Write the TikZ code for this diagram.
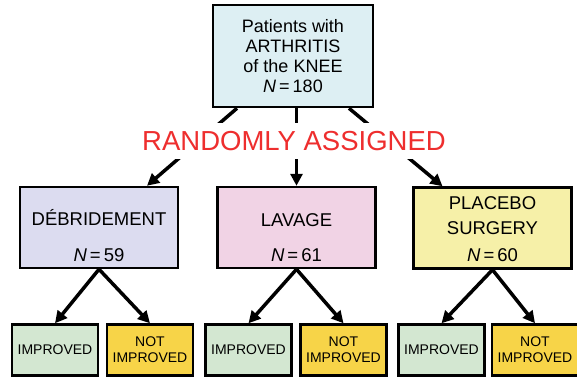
\documentclass[tikz,border=0pt]{standalone}
\usepackage{fontspec}
\setmainfont{Liberation Sans}
\usetikzlibrary{arrows.meta}
\definecolor{ctop}{HTML}{DDEFF3}
\definecolor{cdeb}{HTML}{DCDCF0}
\definecolor{clav}{HTML}{F1D3E5}
\definecolor{cpla}{HTML}{F6F0A8}
\definecolor{cimp}{HTML}{D3E7D1}
\definecolor{cnot}{HTML}{F7D448}
\definecolor{cred}{HTML}{EE2E2E}
\tikzset{
  box/.style={draw=black, fill=#1, line width=2.5pt, inner sep=0pt},
  grpbox/.style={box=#1, minimum width=158pt, minimum height=81pt},
  grptext/.style={font=\fontsize{18.5}{22}\selectfont, anchor=base, inner sep=0pt},
  resbox/.style={box=#1, minimum width=86pt, minimum height=51pt, align=center, font=\fontsize{14}{16}\selectfont},
  arrow/.style={-{Triangle[length=12pt,width=12pt]}, line width=3.5pt},
}

\begin{document}
\begin{tikzpicture}[x=1pt, y=1pt]
  \useasboundingbox (0,0) rectangle (577,-378);
  \node[box=ctop, minimum width=160pt, minimum height=102pt, align=center, font=\fontsize{18}{20}\selectfont] (pat) at (293,-56) {Patients with\\ARTHRITIS\\of the KNEE\\\textit{N}\,=\,180};
  % the three groups
  \node[grpbox=cdeb] (deb) at (99,-227.5) {};
  \node[grpbox=clav] (lav) at (296.5,-227.5) {};
  \node[grpbox=cpla] (pla) at (492.5,-228) {};
  \node[grptext] (debname) at (99,-225.5) {DÉBRIDEMENT};
  \node[grptext] (debn) at (99,-261.5) {\textit{N}\,=\,59};
  \node[grptext] (lavname) at (296.5,-226.5) {LAVAGE};
  \node[grptext] (lavn) at (296.5,-261.5) {\textit{N}\,=\,61};
  \node[grptext] (planame) at (492.5,-209.5) {PLACEBO};
  \node[grptext] (plasurg) at (492.5,-234.5) {SURGERY};
  \node[grptext] (plan) at (492.5,-261.5) {\textit{N}\,=\,60};
  % outcomes
  \node[resbox=cimp] (debimp) at (55,-350) {IMPROVED};
  \node[resbox=cnot] (debnot) at (150,-350) {NOT\\IMPROVED};
  \node[resbox=cimp] (lavimp) at (248.5,-350) {IMPROVED};
  \node[resbox=cnot] (lavnot) at (343.5,-350) {NOT\\IMPROVED};
  \node[resbox=cimp] (plaimp) at (441.5,-350) {IMPROVED};
  \node[resbox=cnot] (planot) at (535,-350) {NOT\\IMPROVED};
  % arrows
  \draw[arrow] ([xshift=-56pt]pat.south) -- ([xshift=48pt]deb.north);
  \draw[arrow] (lav.north |- pat.south) -- (lav.north);
  \draw[arrow] ([xshift=56pt]pat.south) -- ([xshift=-50pt]pla.north);
  \foreach \g/\a/\b in {deb/debimp/debnot, lav/lavimp/lavnot, pla/plaimp/planot} {
    \draw[arrow] (\g.south) -- (\a.north);
    \draw[arrow] (\g.south) -- (\b.north);
  }
  \node[font=\fontsize{27.5}{30}\selectfont, text=cred, fill=white, inner xsep=2pt, inner ysep=8pt] (rand) at (294,-141) {RANDOMLY ASSIGNED};
\end{tikzpicture}
\end{document}
